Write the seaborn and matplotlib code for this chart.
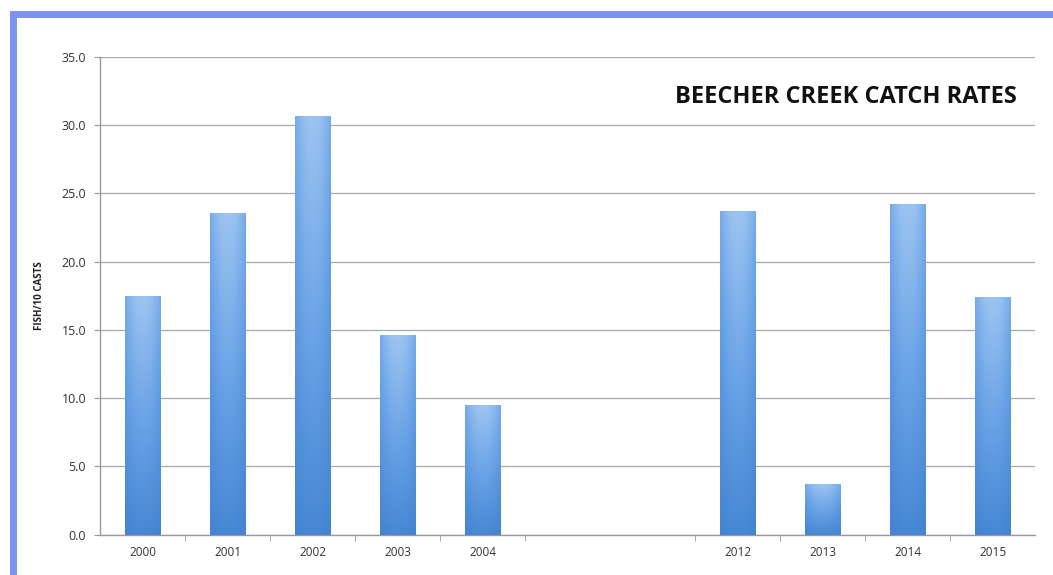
import numpy as np
import pandas as pd
import matplotlib.pyplot as plt
import seaborn as sns
from matplotlib.patches import Rectangle
from matplotlib.colors import LinearSegmentedColormap

# data (empty labels are the gap between 2004 and 2012)
years = ['2000', '2001', '2002', '2003', '2004', ' ', '  ', '2012', '2013', '2014', '2015']
rates = [17.5, 23.6, 30.7, 14.6, 9.5, 0, 0, 23.7, 3.7, 24.2, 17.4]
yticks = [0, 5, 10, 15, 20, 25, 30, 35]

df = pd.DataFrame({'year': years, 'rate': rates})

sns.set_style('white')
plt.rcParams['font.family'] = ['Open Sans', 'DejaVu Sans']

fig = plt.figure(figsize=(10.53, 5.75), dpi=100)
ax = fig.add_axes([0.095, 0.07, 0.888, 0.831])

sns.barplot(data=df, x='year', y='rate', order=years, color='#4a8ad6',
            width=0.42, ax=ax, zorder=3)

# gradient fill on each bar (light at top, deeper blue at bottom, lighter in middle)
cmap = LinearSegmentedColormap.from_list('bar', ['#3a7ccc', '#6aa3e6', '#a9ccf3'])
ny, nx = 64, 32
vert = np.linspace(0, 1, ny)[:, None]
horiz = 1 - 0.35 * np.abs(np.linspace(-1, 1, nx))[None, :] ** 2
grad = vert * 0.75 * horiz + 0.15 * horiz
for p in ax.patches:
    h = p.get_height()
    if h <= 0:
        p.set_linewidth(0)
        continue
    x0, w = p.get_x(), p.get_width()
    im = ax.imshow(grad, extent=[x0, x0 + w, 0, h], origin='lower', aspect='auto',
                   cmap=cmap, vmin=0, vmax=1, zorder=3.5)
    im.set_clip_path(p)
    p.set_edgecolor('#5b95d8')
    p.set_linewidth(0.6)

ax.set_xlim(-0.5, len(years) - 0.5)
ax.set_ylim(0, 35)
ax.set_yticks(yticks)
ax.set_yticklabels([f'{v:.1f}' for v in yticks], fontsize=9, color='#333333')
ax.yaxis.grid(True, color='#a8a8a8', linewidth=0.9, zorder=0)
ax.set_axisbelow(True)
ax.set_xlabel('')
ax.set_ylabel('FISH/10 CASTS', fontsize=7, fontweight='bold', color='#222222', labelpad=12)

ax.tick_params(axis='x', length=0, labelsize=8.5, labelcolor='#333333', pad=8)
ax.set_xticks(range(len(years)))
ax.set_xticks([i + 0.5 for i in range(len(years) - 1) if i != 5], minor=True)
ax.tick_params(axis='x', which='minor', length=4, color='#999999', direction='out')
ax.tick_params(axis='y', length=4, color='#999999', direction='out', pad=6)
ax.yaxis.set_ticks_position('left')
ax.xaxis.set_ticks_position('bottom')

for s in ['top', 'right']:
    ax.spines[s].set_visible(False)
for s in ['left', 'bottom']:
    ax.spines[s].set_color('#999999')
    ax.spines[s].set_linewidth(1.0)

ax.text(0.980, 0.916, 'BEECHER CREEK CATCH RATES', transform=ax.transAxes,
        ha='right', va='center', fontsize=17, fontweight='bold', color='#111111')

# blue outer frame like the original screenshot
fig.patches.append(Rectangle((0.012, -0.05), 1.1, 1.025, transform=fig.transFigure,
                             fill=False, edgecolor='#7d92ee', linewidth=5, zorder=0))

fig.savefig('out.png', dpi=100, facecolor='white')
